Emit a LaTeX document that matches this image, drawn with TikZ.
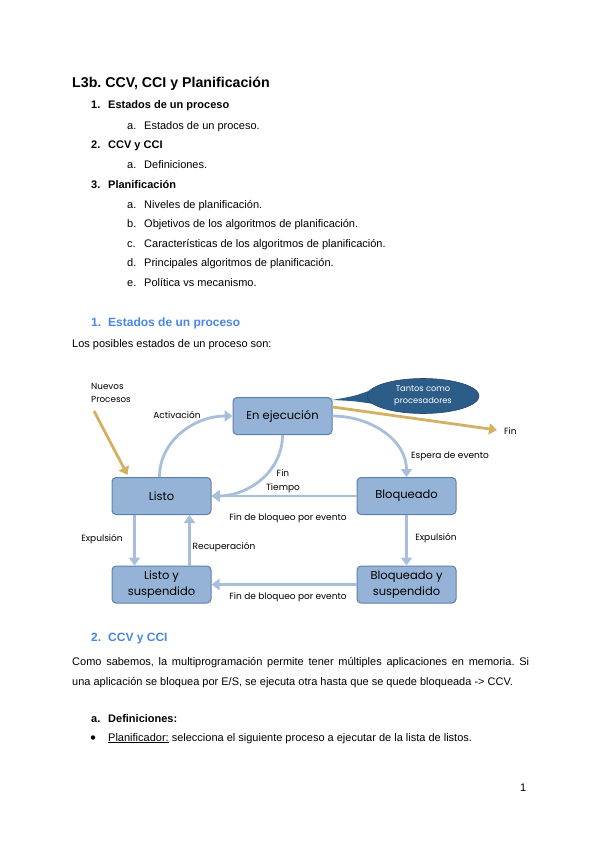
\documentclass[tikz,border=0pt]{standalone}
\usepackage{fontspec}
\setmainfont{Liberation Sans}
\newfontfamily\diag{Poppins}
\usetikzlibrary{arrows.meta,shapes.geometric}
\frenchspacing
\definecolor{headblue}{HTML}{4A86E8}
\definecolor{boxfill}{HTML}{95B3D7}
\definecolor{boxdraw}{HTML}{5B80AE}
\definecolor{flowc}{HTML}{A7BFDB}
\definecolor{goldc}{HTML}{D6B062}
\definecolor{callc}{HTML}{2C5C88}
\tikzset{
  txt/.style={anchor=base west, inner sep=0pt, font=\fontsize{11}{13}\selectfont},
  btxt/.style={txt, font=\fontsize{11}{13}\selectfont\bfseries},
  htxt/.style={txt, font=\fontsize{12}{14}\selectfont\bfseries, text=headblue},
  state/.style={draw=boxdraw, fill=boxfill, line width=1pt, rounded corners=4pt,
    minimum width=99pt, minimum height=37pt, inner sep=1pt, align=center,
    font=\diag\fontsize{11.5}{16}\selectfont},
  lbl/.style={inner sep=0pt, font=\diag\fontsize{9}{14}\selectfont, align=center},
  flow/.style={draw=flowc, line width=2.8pt, -{Triangle[length=8pt,width=11pt]}},
  goldflow/.style={draw=goldc, line width=2.8pt, -{Triangle[length=8pt,width=11pt]}}
}
\begin{document}
\begin{tikzpicture}[x=1pt,y=-1pt]
\useasboundingbox (0,0) rectangle (600,848);
\fill[white] (0,0) rectangle (600,848);

% title and index
\node[txt, font=\fontsize{14.2}{16}\selectfont\bfseries] (title) at (72,88) {L3b. CCV, CCI y Planificación};
\node[btxt] (n1) at (91,109) {1.};
\node[btxt] (s1) at (108,109) {Estados de un proceso};
\node[txt] (n1a) at (127,129) {a.};
\node[txt] (s1a) at (144,129) {Estados de un proceso.};
\node[btxt] (n2) at (91,148) {2.};
\node[btxt] (s2) at (108,148) {CCV y CCI};
\node[txt] (n2a) at (127,168) {a.};
\node[txt] (s2a) at (144,168) {Definiciones.};
\node[btxt] (n3) at (91,188) {3.};
\node[btxt] (s3) at (108,188) {Planificación};
\node[txt] (n3a) at (127,208) {a.};
\node[txt] (s3a) at (144,208) {Niveles de planificación.};
\node[txt] (n3b) at (127,227) {b.};
\node[txt] (s3b) at (144,227) {Objetivos de los algoritmos de planificación.};
\node[txt] (n3c) at (127,247) {c.};
\node[txt] (s3c) at (144,247) {Características de los algoritmos de planificación.};
\node[txt] (n3d) at (127,266) {d.};
\node[txt] (s3d) at (144,266) {Principales algoritmos de planificación.};
\node[txt] (n3e) at (127,286) {e.};
\node[txt] (s3e) at (144,286) {Política vs mecanismo.};

% section 1
\node[htxt] (h1n) at (91,326.5) {1.};
\node[htxt] (h1) at (108,326.5) {Estados de un proceso};
\node[txt] (p1) at (72,347) {Los posibles estados de un proceso son:};

% diagram
\node[state] (ejec) at (282.5,416) {En ejecución};
\node[state] (listo) at (161.5,496) {Listo};
\node[state] (bloq) at (406.5,496) {Bloqueado};
\node[state] (lsus) at (161.5,584.5) {Listo y\\suspendido};
\node[state] (bsus) at (406.5,584.5) {Bloqueado y\\suspendido};

% callout
\fill[callc] (374,389) .. controls (355,396) .. (332,400) .. controls (355,401) .. (386,406) -- cycle;
\node[ellipse, fill=callc, draw=callc!80!black, line width=0.6pt, minimum width=112pt, minimum height=35pt, inner sep=0pt,
  text=white, align=center, font=\diag\fontsize{8.3}{12}\selectfont] (call) at (423,396) {Tantos como\\procesadores};

% new processes
\node[lbl, align=left, anchor=west, font=\diag\fontsize{8.8}{13.5}\selectfont] (nuevos) at (91,393) {Nuevos\\Procesos};
\coordinate (nstart) at (94,411);
\draw[goldflow] (nstart) -- ([xshift=16pt,yshift=2pt]listo.north west);

% fin
\coordinate (finpt) at (497,430);
\draw[goldflow] ([yshift=-10pt]ejec.north east) -- (finpt);
\node[lbl, anchor=west] (finlbl) at (504,431) {Fin};

% transitions
\draw[flow] ([xshift=-2pt]listo.north) to[out=90,in=180] (ejec.west);
\node[lbl] (actlbl) at (177,415) {Activación};
\draw[flow] (ejec.south) to[out=-90,in=0] (listo.east);
\node[lbl] (fintl) at (283,481) {Fin\\Tiempo};
\draw[flow] (bloq.west) -- (listo.east);
\node[lbl] (fb1) at (288,518) {Fin de bloqueo por evento};
\draw[flow] (ejec.east) to[out=0,in=90] (bloq.north);
\node[lbl] (esp) at (450,456) {Espera de evento};
\draw[flow] ([xshift=-27pt]listo.south) -- ([xshift=-27pt]lsus.north);
\node[lbl] (exp1) at (102,539) {Expulsión};
\draw[flow] ([xshift=28pt]lsus.north) -- ([xshift=28pt]listo.south);
\node[lbl] (rec) at (224,547) {Recuperación};
\draw[flow] (bloq.south) -- (bsus.north);
\node[lbl] (exp2) at (436,538) {Expulsión};
\draw[flow] (bsus.west) -- (lsus.east);
\node[lbl] (fb2) at (288,597) {Fin de bloqueo por evento};

% section 2
\node[htxt] (h2n) at (91,641.5) {2.};
\node[htxt] (h2) at (108,641.5) {CCV y CCI};
\node[txt] (pa) at (72,665) {\hbox to 457pt{Como sabemos, la multiprogramación permite tener múltiples aplicaciones en memoria. Si}};
\node[txt] (pb) at (72,685) {una aplicación se bloquea por E/S, se ejecuta otra hasta que se quede bloqueada -{}> CCV.};
\node[btxt] (dan) at (91,722) {a.};
\node[btxt] (da) at (108,722) {Definiciones:};
\node[circle, fill=black, inner sep=0pt, minimum size=4.5pt] (bul) at (93,737.5) {};
\node[txt] (pl) at (108,741) {\underline{Planificador:} selecciona el siguiente proceso a ejecutar de la lista de listos.};

\node[txt] (pg) at (520,791) {1};
\end{tikzpicture}
\end{document}
